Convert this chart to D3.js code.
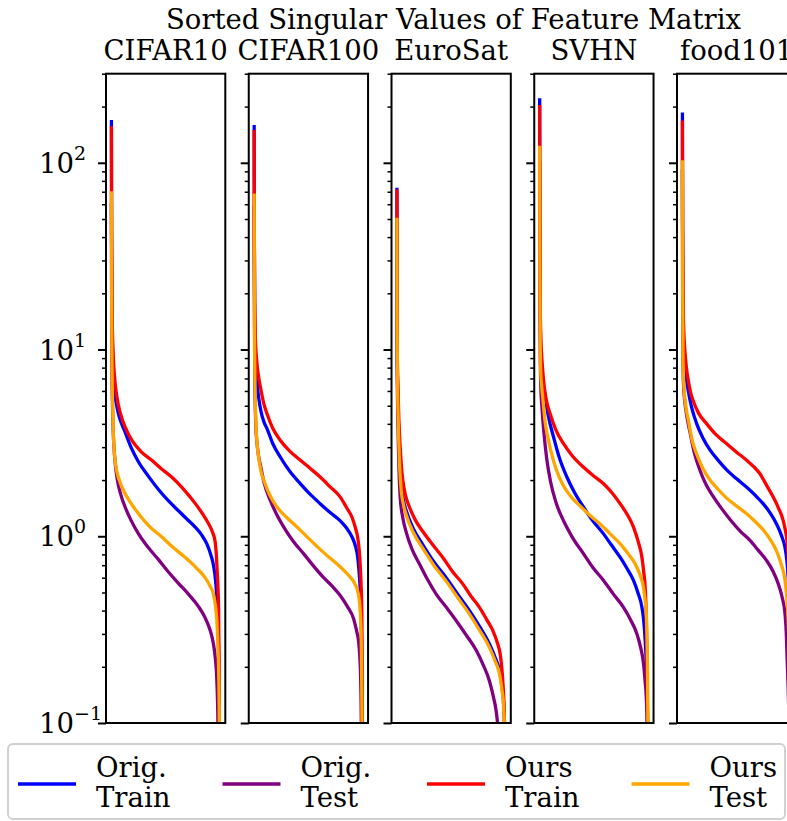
<!DOCTYPE html>
<html>
<head>
<meta charset="utf-8">
<script src="https://cdn.jsdelivr.net/npm/d3@7"></script>
<style>
html,body{margin:0;padding:0;background:#fff;}
svg{display:block;}
text{font-family:"DejaVu Serif",serif;fill:#000;}
</style>
</head>
<body>
<svg id="chart" width="787" height="821"></svg>
<script>
// ---------------- DATA ----------------
const chartTitle = "Sorted Singular Values of Feature Matrix";
const categories = ["CIFAR10", "CIFAR100", "EuroSat", "SVHN", "food101"];
const seriesNames = [["Orig.", "Train"], ["Orig.", "Test"], ["Ours", "Train"], ["Ours", "Test"]];
const seriesColors = ["blue", "purple", "red", "orange"];
const majorTickValues = [0.1, 1, 10, 100];
const majorTickBase = ["10", "10", "10", "10"];
const majorTickExps = ["\u22121", "0", "1", "2"];

// x = position in the sorted spectrum (percent of components), y = singular value
const cifar10OrigTrain = [[0,166],[0.15,40],[0.5,16],[1,10.5],[2,7.3],[3.5,5.6],[5.2,4.9],[7,4.4],[9.5,4.0],[12.7,3.6],[18,3.0],[25,2.5],[34,2.1],[43.4,1.78],[52,1.56],[61.8,1.37],[70,1.23],[77.2,1.12],[83,1.02],[88,0.91],[91.5,0.8],[94.1,0.7],[96,0.58],[97.2,0.47],[98.2,0.33],[98.8,0.24],[99.3,0.1],[100,0.01]];
const cifar10OrigTest  = [[0,60],[0.15,20],[0.5,8],[1,5],[1.6,3.7],[2.5,2.9],[3.7,2.4],[5.5,2.0],[8.5,1.68],[12.7,1.43],[18,1.22],[25,1.03],[34,0.87],[43.4,0.75],[52,0.65],[61.8,0.56],[71,0.49],[80.3,0.42],[86,0.37],[91.1,0.313],[93.8,0.27],[95.7,0.225],[97.2,0.168],[98.2,0.1],[99,0.03],[100,0.005]];
const cifar10OursTrain = [[0,154],[0.15,45],[0.5,18],[1,12],[2,8.5],[3,7.0],[5,5.6],[8.5,4.5],[13,3.8],[18.9,3.26],[27,2.85],[37.3,2.55],[46,2.3],[55.8,2.07],[66,1.8],[77.2,1.5],[84,1.32],[89.5,1.17],[93,1.06],[95.7,0.93],[97,0.75],[97.8,0.6],[98.8,0.416],[99.5,0.15],[100,0.01]];
const cifar10OursTest  = [[0,69],[0.15,22],[0.5,9],[1,5.5],[1.5,4.0],[2.2,3.1],[3.2,2.6],[4.8,2.25],[7.2,2.0],[9.7,1.83],[15,1.6],[25,1.32],[35,1.13],[46.5,0.99],[57,0.87],[68,0.77],[78,0.68],[86.4,0.6],[91,0.54],[94.1,0.49],[96,0.42],[97.2,0.353],[98.2,0.26],[98.8,0.2],[99.5,0.1],[100,0.01]];

const cifar100OrigTrain = [[0,156],[0.15,40],[0.5,16],[1,10.5],[2,7.5],[3,6.3],[4.2,5.5],[6.5,4.6],[9,4.1],[12,3.75],[17,3.15],[24.2,2.65],[33,2.22],[42.7,1.91],[52,1.67],[61.1,1.49],[70,1.34],[79.4,1.21],[85,1.11],[90.3,0.99],[93.5,0.88],[95.5,0.77],[96.6,0.66],[97.3,0.58],[98.6,0.38],[99.3,0.15],[100,0.01]];
const cifar100OrigTest  = [[0,58],[0.15,20],[0.5,8],[1,5],[1.6,3.8],[2.5,3.2],[4,2.7],[5.8,2.4],[9,1.95],[15,1.55],[21,1.3],[27.3,1.12],[36,0.94],[45.7,0.805],[55,0.69],[64.1,0.6],[72,0.54],[79.5,0.48],[86,0.42],[91.8,0.36],[94.5,0.31],[96.4,0.27],[97.5,0.22],[98,0.19],[98.8,0.1],[100,0.005]];
const cifar100OursTrain = [[0,147],[0.15,45],[0.5,18],[1,12],[2.5,8.5],[4,7.2],[6,6.2],[9,5.1],[12,4.5],[17,3.8],[24.2,3.26],[33,2.85],[42.7,2.55],[52,2.3],[61.1,2.07],[70,1.84],[79.4,1.62],[85,1.43],[90.3,1.26],[93.5,1.1],[95.5,0.98],[96.8,0.85],[97.8,0.7],[98.6,0.55],[99.3,0.38],[99.7,0.15],[100,0.01]];
const cifar100OursTest  = [[0,67],[0.15,22],[0.5,9],[1,5.5],[1.6,4.0],[2.8,3.1],[4.5,2.55],[6.5,2.2],[8.8,2.0],[14,1.68],[21.2,1.43],[30,1.26],[39.6,1.12],[49,0.99],[58.1,0.88],[67,0.79],[76.5,0.71],[84,0.645],[89,0.6],[92.5,0.56],[95,0.52],[96.6,0.47],[97.5,0.42],[98.6,0.3],[99.4,0.1],[100,0.01]];

const eurosatOrigTrain = [[0,72],[0.15,17],[0.4,8],[0.8,5.8],[1.5,3.8],[2.4,2.7],[4,1.9],[6,1.56],[8.6,1.37],[15,1.1],[23.9,0.9],[34,0.73],[45.4,0.6],[56,0.49],[66.9,0.4],[76,0.33],[85.3,0.265],[90.5,0.225],[94.6,0.19],[97,0.155],[98.2,0.132],[99.4,0.09],[100,0.01]];
const eurosatOrigTest  = [[0,45],[0.15,13],[0.4,6.5],[0.8,4.5],[1.5,2.8],[3,1.62],[5.5,1.25],[8.6,1.05],[14,0.85],[20.8,0.71],[28,0.59],[36.2,0.49],[45,0.42],[54.7,0.353],[64,0.295],[73.1,0.245],[79.5,0.205],[85.3,0.168],[88.7,0.14],[91.5,0.116],[93.5,0.09],[96,0.05],[100,0.005]];
const eurosatOursTrain = [[0,70.6],[0.15,18],[0.4,9],[0.8,6.84],[1.8,4.2],[3,3.0],[4.1,2.4],[5.4,2.0],[8,1.65],[11.6,1.43],[17,1.22],[23.9,1.06],[33,0.9],[42.3,0.77],[51,0.65],[60.7,0.556],[68,0.48],[76.1,0.416],[82.5,0.36],[88.4,0.313],[92.5,0.27],[95.2,0.234],[96.8,0.195],[97.6,0.168],[99,0.112],[99.6,0.06],[100,0.01]];
const eurosatOursTest  = [[0,49.7],[0.15,15],[0.4,7.5],[0.8,5.3],[1.5,3.5],[2.4,2.44],[4,1.75],[6,1.48],[8.6,1.3],[15,1.05],[23.9,0.86],[34,0.7],[45.4,0.575],[56,0.47],[66.9,0.383],[76,0.315],[85.3,0.254],[90.5,0.215],[94.6,0.183],[97,0.148],[98.2,0.127],[99.4,0.08],[100,0.01]];

const svhnOrigTrain = [[0,217],[0.15,50],[0.5,16],[1,10],[2.5,7.2],[3.8,6.2],[5.2,5.5],[8,4.4],[12.8,3.4],[18,2.65],[25.2,2.07],[32,1.72],[40.5,1.43],[49,1.21],[58.9,1.03],[66,0.9],[74.3,0.77],[80,0.68],[86.5,0.58],[90.5,0.5],[94.3,0.416],[96,0.35],[97.3,0.276],[98.8,0.168],[99.5,0.1],[100,0.01]];
const svhnOrigTest  = [[0,100],[0.15,25],[0.5,10],[1,6.5],[2,5.0],[3.2,4.0],[4.5,3.3],[6.5,2.6],[9.8,1.99],[15,1.52],[22,1.21],[30,0.99],[40.5,0.805],[49,0.68],[58.9,0.58],[68,0.49],[77.3,0.416],[84,0.355],[89.7,0.3],[93,0.255],[95.8,0.207],[97.3,0.165],[98.3,0.137],[99,0.1],[100,0.005]];
const svhnOursTrain = [[0,200],[0.15,55],[0.5,18],[1,12],[2,9],[3.6,6.84],[5.8,5.5],[9.8,4.5],[15,3.7],[22,3.13],[30,2.7],[40.5,2.34],[49,2.12],[58.9,1.91],[67,1.7],[74.3,1.49],[81,1.3],[86.5,1.12],[91,0.93],[94.3,0.77],[96,0.64],[97.3,0.53],[98.3,0.37],[98.8,0.254],[99.5,0.1],[100,0.01]];
const svhnOursTest  = [[0,121],[0.15,30],[0.5,11],[1,7.5],[2,6.2],[3,5.4],[5,4.1],[7.5,3.4],[9.8,2.95],[15,2.3],[22,1.86],[30,1.6],[37.4,1.45],[46,1.3],[55.9,1.16],[65,1.03],[74.3,0.91],[82,0.8],[88.1,0.71],[92.5,0.62],[95.8,0.53],[97.3,0.45],[98.3,0.384],[99.4,0.207],[99.8,0.1],[100,0.02]];

const food101OrigTrain = [[0,182],[0.15,45],[0.5,16],[1,11],[2.5,8],[3.8,6.9],[5.4,6.0],[8.5,4.9],[13.2,4.0],[19,3.35],[25.4,2.9],[33,2.55],[40.8,2.27],[50,2.03],[59.3,1.83],[67,1.66],[74.6,1.49],[81,1.33],[86.9,1.16],[91,1.02],[94.6,0.87],[96.3,0.74],[97.5,0.6],[99,0.3],[99.6,0.1],[100,0.01]];
const food101OrigTest  = [[0,90],[0.15,22],[0.5,9],[1,6.5],[2,5.4],[3.5,4.6],[5,4.1],[7,3.6],[11,2.8],[16.2,2.25],[22,1.88],[28.5,1.63],[36,1.41],[43.9,1.23],[53,1.07],[62.3,0.95],[70,0.84],[77.7,0.74],[83.5,0.65],[88.4,0.556],[92,0.47],[94.6,0.384],[95.8,0.3],[96.4,0.234],[98,0.12],[99,0.06],[100,0.005]];
const food101OursTrain = [[0,165],[0.15,50],[0.5,20],[1,14],[2.5,9.5],[3.8,7.9],[5.4,6.84],[7.5,5.9],[10,5.3],[15,4.55],[22.4,4.0],[31,3.5],[40.8,3.13],[50,2.82],[59.3,2.55],[66,2.35],[71.5,2.16],[77.5,1.88],[83.8,1.62],[88.5,1.42],[93,1.21],[95,1.07],[96.4,0.95],[98.5,0.6],[99.5,0.25],[100,0.02]];
const food101OursTest  = [[0,101],[0.15,25],[0.5,10],[1,7],[2.5,5.3],[4,4.6],[5.4,4.2],[8.5,3.35],[13.2,2.75],[19,2.3],[25.4,2.0],[33,1.78],[40.8,1.6],[50,1.45],[59.3,1.32],[67,1.2],[74.6,1.08],[81,0.96],[86.9,0.83],[91,0.71],[94.6,0.58],[96.4,0.455],[98,0.3],[99.3,0.12],[100,0.01]];

const panelSeries = [
  [cifar10OrigTrain, cifar10OrigTest, cifar10OursTrain, cifar10OursTest],
  [cifar100OrigTrain, cifar100OrigTest, cifar100OursTrain, cifar100OursTest],
  [eurosatOrigTrain, eurosatOrigTest, eurosatOursTrain, eurosatOursTest],
  [svhnOrigTrain, svhnOrigTest, svhnOursTrain, svhnOursTest],
  [food101OrigTrain, food101OrigTest, food101OursTrain, food101OursTest]
];

// ---------------- LAYOUT ----------------
const svg = d3.select("#chart");
const panelLeft0 = 106, panelStep = 142.75, panelW = 119.3;
const plotTop = 73.7, plotBottom = 723;
const fontSize = 27.5;

const y = d3.scaleLog().domain([0.1, 300]).range([plotBottom, plotTop]);

// minor ticks (2..9 per decade inside the domain)
const minorTicks = [];
[0.1, 1, 10, 100].forEach(d => { for (let k = 2; k <= 9; k++) { const v = d * k; if (v <= 300) minorTicks.push(v); } });

svg.append("text")
  .attr("x", 453.5).attr("y", 28.5)
  .attr("text-anchor", "middle")
  .style("font-size", fontSize + "px")
  .text(chartTitle);

const defs = svg.append("defs");

categories.forEach((cat, i) => {
  const left = panelLeft0 + i * panelStep;
  const x = d3.scaleLinear().domain([-5, 105]).range([left, left + panelW]);
  const g = svg.append("g");

  defs.append("clipPath").attr("id", "clip" + i)
    .append("rect").attr("x", left).attr("y", plotTop).attr("width", panelW).attr("height", plotBottom - plotTop);

  const line = d3.line().x(d => x(d[0])).y(d => y(d[1])).curve(d3.curveMonotoneX);

  const lg = g.append("g").attr("clip-path", "url(#clip" + i + ")");
  panelSeries[i].forEach((ser, s) => {
    lg.append("path")
      .datum(ser)
      .attr("d", line)
      .attr("fill", "none")
      .attr("stroke", seriesColors[s])
      .attr("stroke-width", 3.3)
      .attr("stroke-linecap", "square")
      .attr("stroke-linejoin", "round");
  });

  // minor ticks
  const minorAxis = d3.axisLeft(y).tickValues(minorTicks).tickSize(4).tickFormat("");
  const ma = g.append("g").attr("transform", `translate(${left},0)`).call(minorAxis);
  ma.select(".domain").remove();
  ma.selectAll(".tick line").attr("stroke", "#000").attr("stroke-width", 1.5);

  // major ticks
  const majorAxis = d3.axisLeft(y).tickValues(majorTickValues).tickSize(8).tickFormat("");
  const mj = g.append("g").attr("transform", `translate(${left},0)`).call(majorAxis);
  mj.select(".domain").remove();
  mj.selectAll(".tick line").attr("stroke", "#000").attr("stroke-width", 2);

  // spines
  g.append("rect")
    .attr("x", left).attr("y", plotTop)
    .attr("width", panelW).attr("height", plotBottom - plotTop)
    .attr("fill", "none").attr("stroke", "#000").attr("stroke-width", 2);

  // panel title
  svg.append("text")
    .attr("x", left + panelW / 2).attr("y", 59.5)
    .attr("text-anchor", "middle")
    .style("font-size", fontSize + "px")
    .text(cat);

  // tick labels on the first panel only
  if (i === 0) {
    majorTickValues.forEach((v, k) => {
      const t = svg.append("text")
        .attr("x", 39).attr("y", y(v) + 10)
        .style("font-size", fontSize + "px");
      t.append("tspan").text(majorTickBase[k]);
      t.append("tspan").attr("dy", -13).style("font-size", "19px").text(majorTickExps[k]);
    });
  }
});

// ---------------- LEGEND ----------------
const leg = svg.append("g");
leg.append("rect")
  .attr("x", 8).attr("y", 744).attr("width", 777).attr("height", 75)
  .attr("rx", 5).attr("ry", 5)
  .attr("fill", "#fff").attr("fill-opacity", 0.8)
  .attr("stroke", "#d0d0d0").attr("stroke-width", 2);

const legStep = 204.5;
seriesNames.forEach((nm, s) => {
  const x0 = 18 + s * legStep;
  leg.append("line")
    .attr("x1", x0).attr("x2", x0 + 58)
    .attr("y1", 784).attr("y2", 784)
    .attr("stroke", seriesColors[s]).attr("stroke-width", 3.3);
  const t = leg.append("text").style("font-size", fontSize + "px");
  t.append("tspan").attr("x", x0 + 78).attr("y", 777).text(nm[0]);
  t.append("tspan").attr("x", x0 + 78).attr("y", 807).text(nm[1]);
});
</script>
</body>
</html>
